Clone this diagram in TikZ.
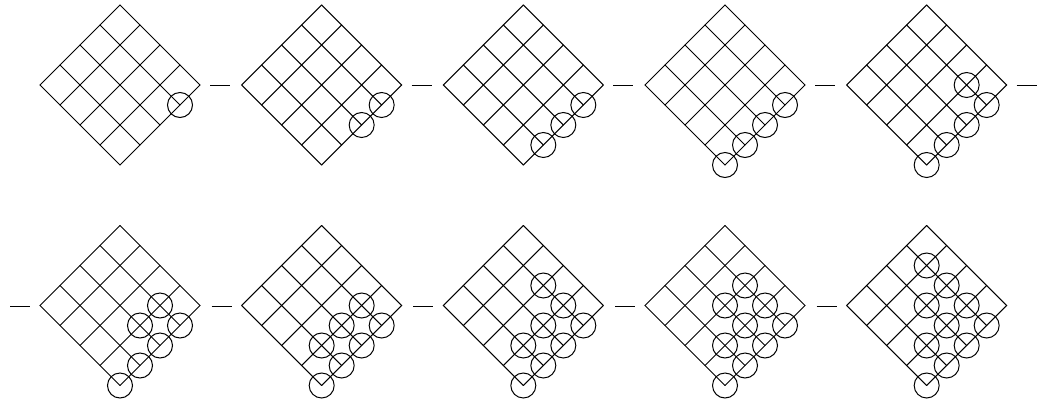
\documentclass[tikz,border=0pt]{standalone}
\newcommand\latticediagram[3]{%
\begin{scope}[shift={(#1,#2)}]
  \foreach \k in {0,...,4} {
    \draw[gridline] ({20*\k},{20*\k}) -- ({20*(\k-4)},{20*(\k+4)});
    \draw[gridline] ({-20*\k},{20*\k}) -- ({20*(4-\k)},{20*(4+\k)});
  }
  \foreach \i/\j in {#3} \draw[ring] ({20*(\i-\j)},{20*(\i+\j)}) circle[radius=12.5];
\end{scope}}
\begin{document}
\begin{tikzpicture}[x=1pt,y=-1pt,
  gridline/.style={line width=1pt, line cap=round, black},
  ring/.style={line width=1pt, black},
  minus/.style={line width=1pt, black}]
\useasboundingbox (0,0) rectangle (1038,408);
% row 1
\latticediagram{120}{5}{4/1}
\latticediagram{321.67}{5}{4/1,4/2}
\latticediagram{523.33}{5}{4/1,4/2,4/3}
\latticediagram{725}{5}{4/1,4/2,4/3,4/4}
\latticediagram{926.67}{5}{3/1,4/1,4/2,4/3,4/4}
\foreach \k in {0,...,4} {
  \coordinate (a\k) at ({120+201.67*\k+90},85);
  \coordinate (b\k) at ({120+201.67*\k+110},85);
  \draw[minus] (a\k) -- (b\k);
}
% row 2
\latticediagram{120}{225.5}{3/1,3/2,4/1,4/2,4/3,4/4}
\latticediagram{321.67}{225.5}{3/1,3/2,3/3,4/1,4/2,4/3,4/4}
\latticediagram{523.33}{225.5}{2/1,3/1,3/2,3/3,4/1,4/2,4/3,4/4}
\latticediagram{725}{225.5}{2/1,2/2,3/1,3/2,3/3,4/1,4/2,4/3,4/4}
\latticediagram{926.67}{225.5}{1/1,2/1,2/2,3/1,3/2,3/3,4/1,4/2,4/3,4/4}
\foreach \k in {0,...,4} {
  \coordinate (c\k) at ({120+201.67*\k-110},306);
  \coordinate (d\k) at ({120+201.67*\k-90},306);
  \draw[minus] (c\k) -- (d\k);
}
\end{tikzpicture}
\end{document}
